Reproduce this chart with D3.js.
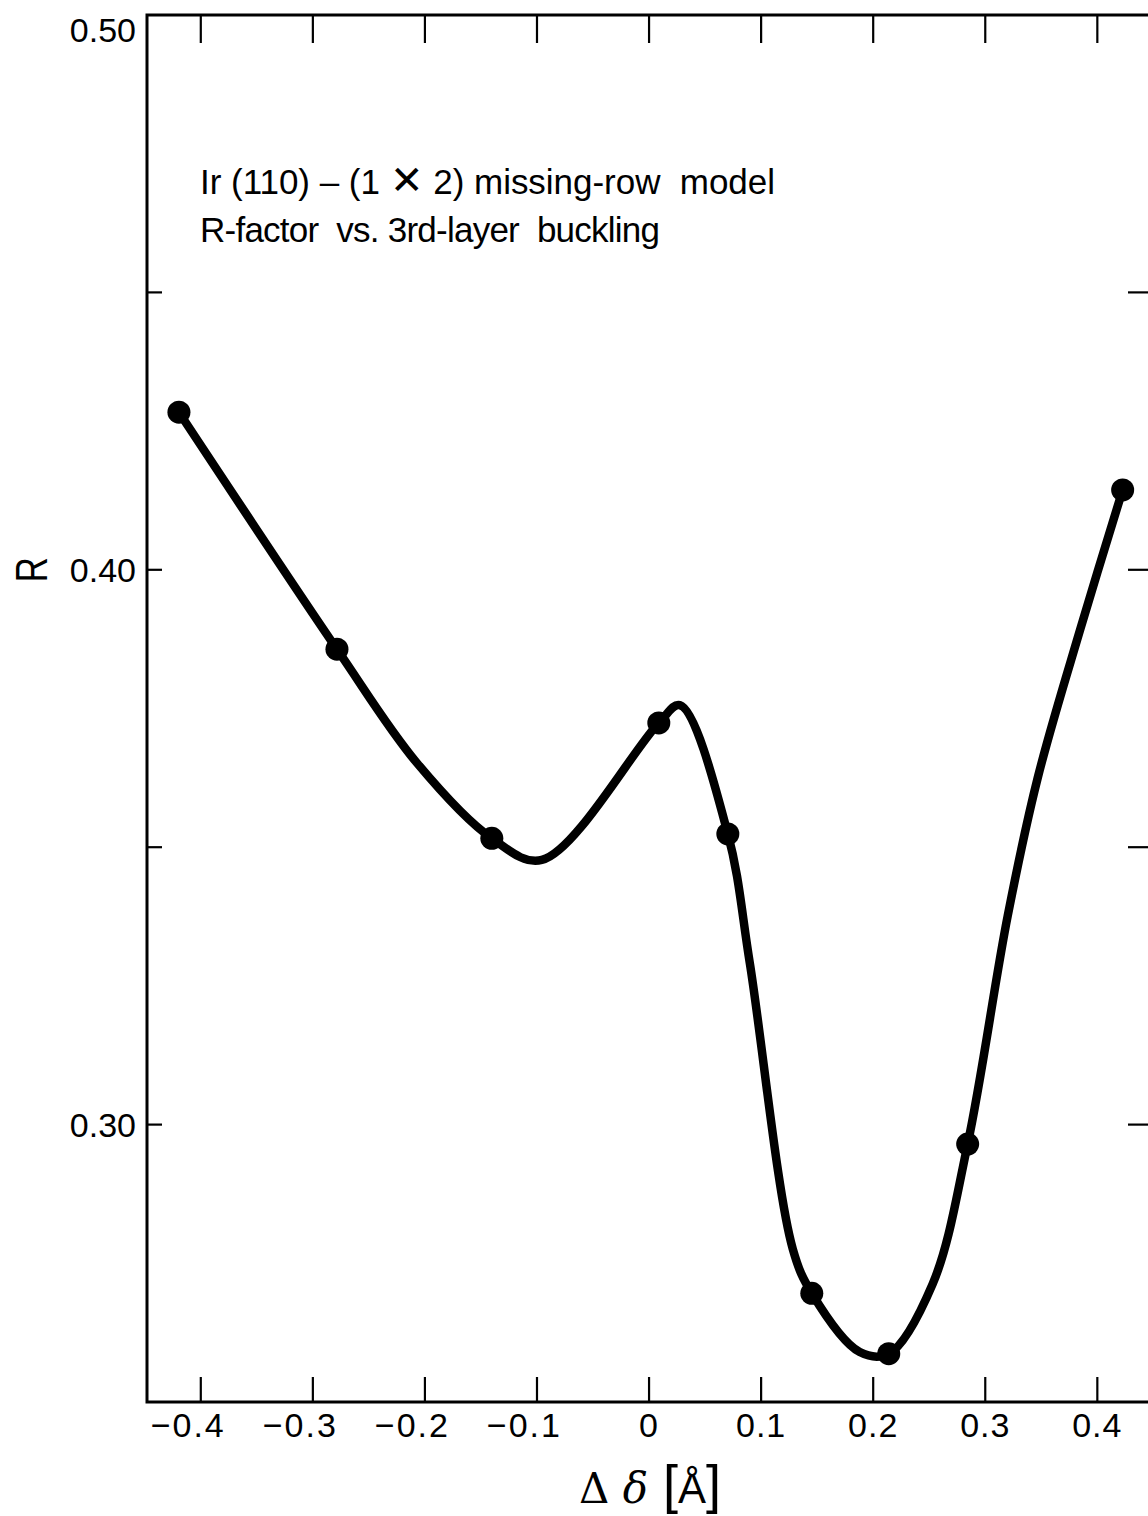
<!DOCTYPE html>
<html>
<head>
<meta charset="utf-8">
<script src="https://cdn.jsdelivr.net/npm/d3@7"></script>
<style>
  body { margin: 0; background: #fff; }
  text { font-family: "Liberation Sans", Arial, sans-serif; fill: #000; }
</style>
</head>
<body>
<div id="chart"></div>
<script>
// measured R-factor points
var deltas = [-0.4195, -0.2785, -0.1403, 0.0087, 0.0703, 0.1452, 0.2139, 0.2843, 0.4226];
var rValues = [0.4284, 0.3857, 0.3516, 0.3724, 0.3524, 0.2696, 0.2587, 0.2965, 0.4144];

// smooth guide curve drawn through the points
var curveX = [-0.4195, -0.2785, -0.2072, -0.1403, -0.0957, 0.0087, 0.0275, 0.0703,
              0.0899, 0.1282, 0.1452, 0.1880, 0.2139, 0.2531, 0.2843, 0.3200, 0.3468, 0.3851, 0.4226];
var curveR = [0.4284, 0.3857, 0.3652, 0.3516, 0.3477, 0.3724, 0.3756, 0.3524,
              0.3291, 0.2776, 0.2696, 0.2590, 0.2587, 0.2713, 0.2965, 0.3376, 0.3625, 0.3895, 0.4144];

var xTicks = [-0.4, -0.3, -0.2, -0.1, 0, 0.1, 0.2, 0.3, 0.4];
var xTickLabels = ["\u22120.4", "\u22120.3", "\u22120.2", "\u22120.1", "0", "0.1", "0.2", "0.3", "0.4"];
var yTicks = [0.45, 0.40, 0.35, 0.30];
var yLabels = [0.50, 0.40, 0.30];

(function() {
  var width = 1148, height = 1516;
  var m = { left: 147, right: 1150, top: 15, bottom: 1402 };

  var svg = d3.select("#chart").append("svg")
      .attr("width", width)
      .attr("height", height);

  var x = d3.scaleLinear().domain([-0.448, 0.447]).range([m.left, m.right]);
  var y = d3.scaleLinear().domain([0.25, 0.50]).range([m.bottom, m.top]);

  // frame
  svg.append("rect")
      .attr("x", m.left).attr("y", m.top)
      .attr("width", m.right - m.left).attr("height", m.bottom - m.top)
      .attr("fill", "none").attr("stroke", "#000").attr("stroke-width", 3);

  // inward ticks
  var ticks = svg.append("g").attr("stroke", "#000").attr("stroke-width", 2.2);
  ticks.selectAll(".tb").data(xTicks).enter().append("line")
      .attr("x1", function(d) { return x(d); }).attr("x2", function(d) { return x(d); })
      .attr("y1", m.bottom).attr("y2", m.bottom - 25);
  ticks.selectAll(".tt").data(xTicks).enter().append("line")
      .attr("x1", function(d) { return x(d); }).attr("x2", function(d) { return x(d); })
      .attr("y1", m.top).attr("y2", m.top + 28);
  ticks.selectAll(".tl").data(yTicks).enter().append("line")
      .attr("x1", m.left).attr("x2", m.left + 15)
      .attr("y1", function(d) { return y(d); }).attr("y2", function(d) { return y(d); });
  ticks.selectAll(".tr").data(yTicks).enter().append("line")
      .attr("x1", m.right).attr("x2", m.right - 22)
      .attr("y1", function(d) { return y(d); }).attr("y2", function(d) { return y(d); });

  // tick labels (minus sign hangs left of the centred number)
  svg.selectAll(".xl").data(xTicks).enter().append("text")
      .attr("x", function(d) { return d < 0 ? x(d) + 25 : x(d); })
      .attr("y", 1437)
      .attr("text-anchor", function(d) { return d < 0 ? "end" : "middle"; })
      .attr("font-size", 34)
      .attr("letter-spacing", function(d) { return d < 0 ? 2 : 1; })
      .text(function(d, i) { return xTickLabels[i]; });

  svg.selectAll(".yl").data(yLabels).enter().append("text")
      .attr("x", 136)
      .attr("y", function(d) { return d === 0.50 ? y(d) + 27 : y(d) + 12; })
      .attr("text-anchor", "end")
      .attr("font-size", 34)
      .text(function(d) { return d.toFixed(2); });

  // axis titles
  svg.append("text")
      .attr("transform", "translate(47," + y(0.40) + ") rotate(-90) scale(0.8,1)")
      .attr("text-anchor", "middle")
      .attr("font-size", 44)
      .text("R");

  var xt = svg.append("text")
      .attr("x", 650).attr("y", 1503)
      .attr("text-anchor", "middle")
      .attr("font-size", 42);
  xt.append("tspan").attr("font-family", "DejaVu Serif, serif").text("\u0394 ");
  xt.append("tspan").attr("font-family", "DejaVu Serif, serif").attr("font-style", "italic").text("\u03b4");
  xt.append("tspan").attr("font-size", 54).text(" [");
  xt.append("tspan").text("\u00c5");
  xt.append("tspan").attr("font-size", 54).text("]");

  // annotation
  var l1 = svg.append("text").attr("x", 200).attr("y", 194)
      .attr("font-size", 35).attr("xml:space", "preserve")
      .attr("textLength", 575).attr("lengthAdjust", "spacing");
  l1.append("tspan").text("Ir (110) \u2013 (1 ");
  l1.append("tspan").attr("font-size", 40).text("\u2715");
  l1.append("tspan").text(" 2) missing-row  model");
  svg.append("text").attr("x", 200).attr("y", 242)
      .attr("font-size", 35).attr("xml:space", "preserve")
      .attr("textLength", 460).attr("lengthAdjust", "spacing")
      .text("R-factor  vs. 3rd-layer  buckling");

  // guide curve
  var line = d3.line()
      .x(function(d) { return x(d[0]); })
      .y(function(d) { return y(d[1]); })
      .curve(d3.curveCatmullRom.alpha(0.5));

  svg.append("path")
      .datum(d3.zip(curveX, curveR))
      .attr("d", line)
      .attr("fill", "none")
      .attr("stroke", "#000")
      .attr("stroke-width", 8.5)
      .attr("stroke-linecap", "round")
      .attr("stroke-linejoin", "round");

  // points
  svg.selectAll(".pt").data(d3.zip(deltas, rValues)).enter().append("circle")
      .attr("cx", function(d) { return x(d[0]); })
      .attr("cy", function(d) { return y(d[1]); })
      .attr("r", 11.5)
      .attr("fill", "#000");
})();
</script>
</body>
</html>
